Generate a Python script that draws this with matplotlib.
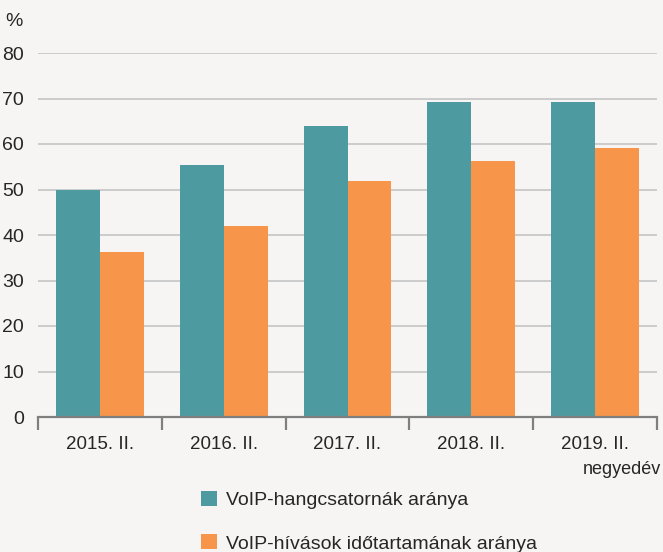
import numpy as np
import matplotlib.pyplot as plt
from matplotlib.patches import Patch

# adatok
kategoriak = ["2015. II.", "2016. II.", "2017. II.", "2018. II.", "2019. II."]
hangcsatorna = [50.0, 55.4, 64.0, 69.2, 69.2]
idotartam = [36.3, 42.0, 51.9, 56.3, 59.2]

TEAL = "#4e9aa1"
NARANCS = "#f7964a"
HATTER = "#f6f5f3"
SZOVEG = "#262626"

plt.rcParams["font.family"] = ["Liberation Sans", "DejaVu Sans"]

fig = plt.figure(figsize=(6.63, 5.52), dpi=100, facecolor=HATTER)
ax = fig.add_axes([38 / 663, 1 - 417 / 552, 619 / 663, 364 / 552])
ax.set_facecolor(HATTER)

x = np.arange(len(kategoriak))
w = 0.355
ax.bar(x - w / 2, hangcsatorna, width=w, color=TEAL, zorder=3)
ax.bar(x + w / 2, idotartam, width=w, color=NARANCS, zorder=3)

ax.set_xlim(-0.5, len(kategoriak) - 0.5)
ax.set_ylim(0, 80)
ax.set_yticks(range(0, 81, 10))
ax.yaxis.grid(True, color="#c9c8c8", linewidth=1.3, zorder=0)
ax.tick_params(axis="y", length=0, pad=10, labelsize=14, labelcolor=SZOVEG)

ax.set_xticks(x)
ax.set_xticklabels(kategoriak)
ax.set_xticks(np.arange(-0.5, len(kategoriak)), minor=True)
ax.tick_params(axis="x", which="major", length=0, pad=14, labelsize=13.5, labelcolor=SZOVEG)
ax.tick_params(axis="x", which="minor", length=9, width=1.6, color="#7f7f7f", direction="out")

for s in ["top", "right", "left"]:
    ax.spines[s].set_visible(False)
ax.spines["bottom"].set_color("#7f7f7f")
ax.spines["bottom"].set_linewidth(1.6)
ax.spines["bottom"].set_zorder(4)

fig.text(5 / 663, 1 - 21 / 552, "%", fontsize=14, color=SZOVEG, va="center")
fig.text(661 / 663, 1 - 469 / 552, "negyedév", fontsize=13, color=SZOVEG,
         ha="right", va="center")

kezelok = [Patch(facecolor=TEAL, label="VoIP-hangcsatornák aránya"),
           Patch(facecolor=NARANCS, label="VoIP-hívások időtartamának aránya")]
fig.legend(handles=kezelok, loc="upper left", bbox_to_anchor=(201 / 663, 1 - 491 / 552),
           frameon=False, fontsize=14, handlelength=0.8, handleheight=0.8,
           handletextpad=0.5, labelspacing=1.3, borderpad=0, borderaxespad=0,
           labelcolor=SZOVEG)

fig.savefig("out.png", dpi=100, facecolor=HATTER)
